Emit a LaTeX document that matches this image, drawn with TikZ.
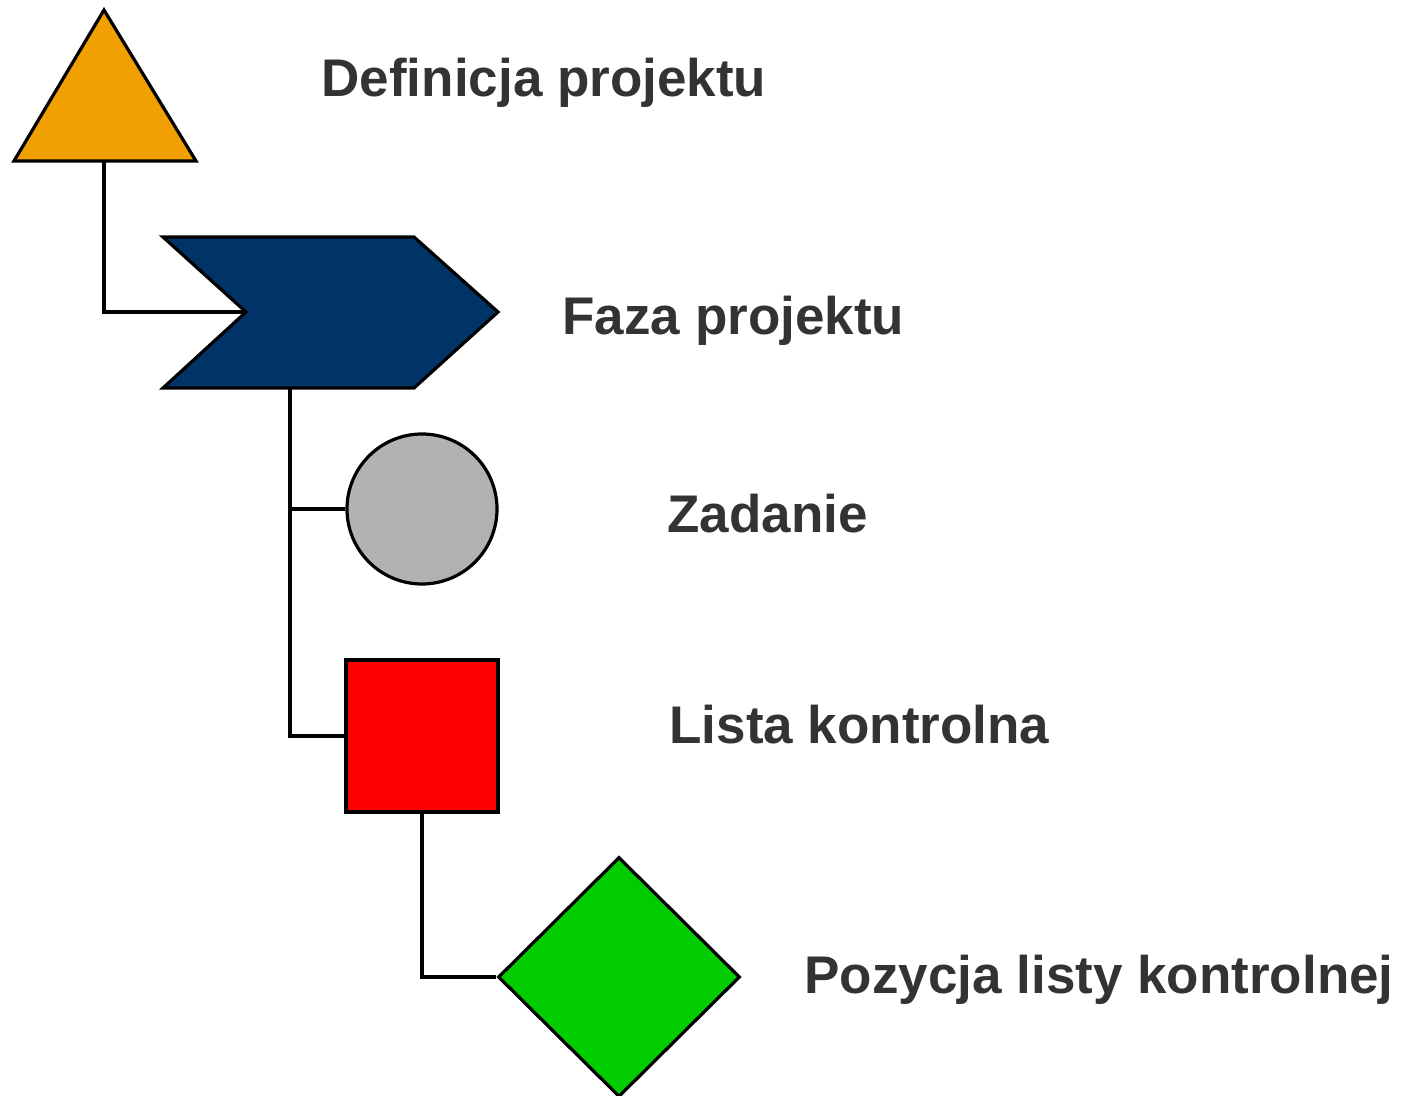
\documentclass[tikz,border=0pt]{standalone}
\usepackage{fontspec}
\setmainfont{Liberation Sans}
\usetikzlibrary{shapes.geometric}
\definecolor{defcol}{RGB}{240,160,0}
\definecolor{fazacol}{RGB}{0,51,102}
\definecolor{zadcol}{RGB}{178,178,178}
\definecolor{listcol}{RGB}{255,0,0}
\definecolor{pozcol}{RGB}{0,204,0}
\definecolor{labtext}{RGB}{51,51,51}
\begin{document}
\begin{tikzpicture}[x=0.5pt,y=-0.5pt,
		line width=1.6pt,
		obj/.style={draw=black,inner sep=0pt},
		lab/.style={anchor=base west,inner sep=0pt,text=labtext,
			font=\fontsize{26.5}{30}\selectfont\bfseries}]
		\useasboundingbox (0,0) rectangle (1402,1096);
		% project definition and phase
		\filldraw[fill=defcol] (104,10) -- (196,161) -- (14,161) -- cycle;
		\coordinate (defS) at (104,161);
		\filldraw[fill=fazacol] (163,237) -- (414,237) -- (498,312) -- (414,388)
			-- (163,388) -- (246,312) -- cycle;
		\coordinate (fazaW) at (246,312);
		\coordinate (fazaS) at (290,388);
		% task, checklist, checklist item
		\node[obj,circle,fill=zadcol,minimum size=75pt] (zad) at (422,509) {};
		\node[obj,rectangle,fill=listcol,minimum size=76pt] (lista) at (422,736) {};
		\node[obj,diamond,fill=pozcol,minimum width=121pt,minimum height=120pt] (poz) at (619,977) {};
		\draw (defS) |- (fazaW);
		\draw (fazaS) |- (zad.west);
		\draw (fazaS) |- (lista.west);
		\draw (lista.south) |- (poz.west);
		% labels
		\node[lab] (defl) at (320,97) {Definicja projektu};
		\node[lab] (fazal) at (561,335) {Faza projektu};
		\node[lab] (zadl) at (666,532) {Zadanie};
		\node[lab] (listal) at (668,743) {Lista kontrolna};
		\node[lab] (pozl) at (803,993) {Pozycja listy kontrolnej};
\end{tikzpicture}
\end{document}
